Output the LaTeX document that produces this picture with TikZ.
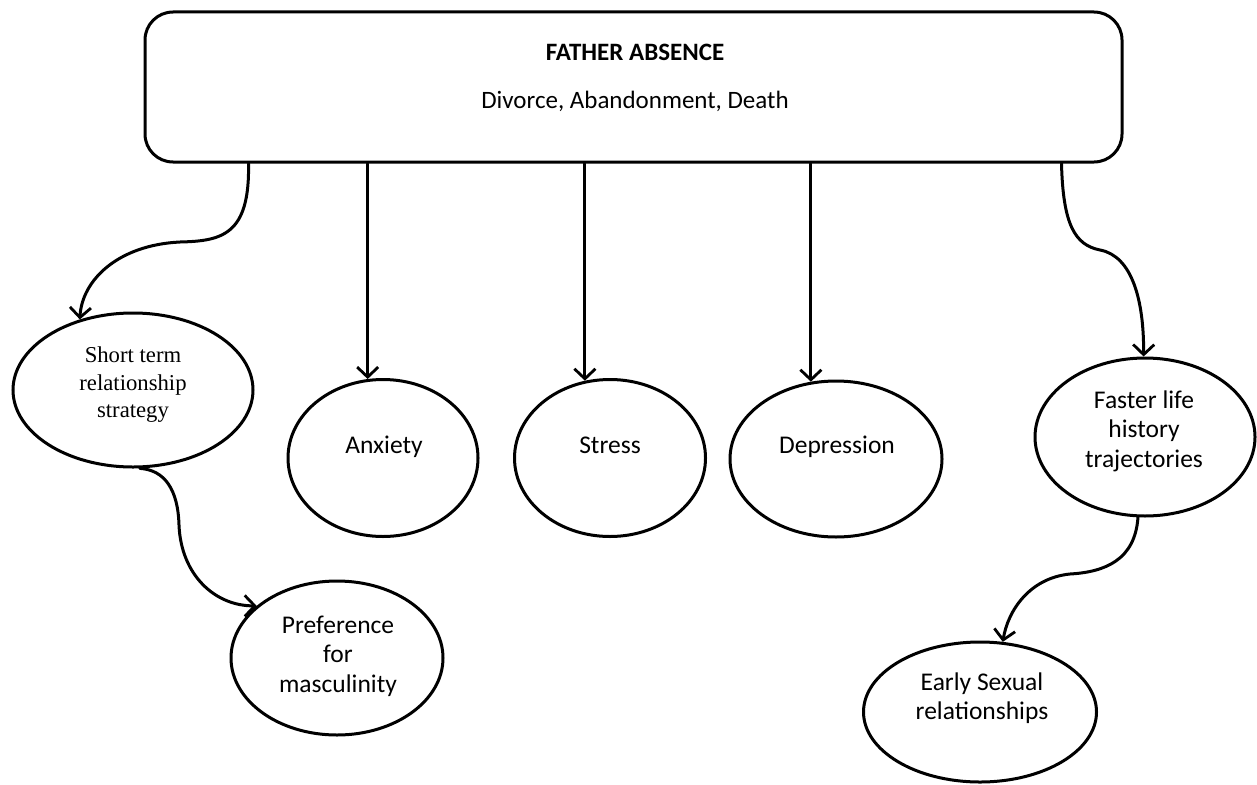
\documentclass[tikz,border=0pt]{standalone}
\usepackage{fontspec}
\setmainfont{Carlito}
\newfontfamily\timesfont{Liberation Serif}
\usetikzlibrary{shapes.geometric,arrows.meta,calc}
\tikzset{
  every picture/.style={line width=3pt},
  bubble/.style={draw, ellipse, inner sep=0pt},
  lbl/.style={inner sep=0pt, align=center, font=\fontsize{25.5}{29.5}\selectfont},
  arr/.style={-{Straight Barb[length=10pt,width=21pt,line width=2.8pt]}, line cap=round},
}
\begin{document}
\begin{tikzpicture}[x=1pt,y=-1pt]
\useasboundingbox (0,0) rectangle (1257,784);
% top box
\node[draw, rounded corners=28pt, minimum width=977pt, minimum height=150pt, inner sep=0pt] (top) at (633.5,87) {};
\node[lbl, font=\fontsize{25}{29}\selectfont\bfseries] (ttl) at (635,55) {\strut FATHER ABSENCE};
\node[lbl, font=\fontsize{25}{29}\selectfont] (sub) at (635,103) {\strut Divorce, Abandonment, Death};
% ellipses
\node[bubble, minimum width=240pt, minimum height=154pt] (st) at (133,390) {};
\node[lbl, font=\timesfont\fontsize{22.7}{27.5}\selectfont] (sttxt) at (133,385) {Short term\\relationship\\strategy};
\node[bubble, minimum width=190pt, minimum height=157pt] (anx) at (383,458) {};
\node[lbl] (anxtxt) at (384,448) {\strut Anxiety};
\node[bubble, minimum width=191pt, minimum height=157pt] (str) at (610,458) {};
\node[lbl] (strtxt) at (610,448) {\strut Stress};
\node[bubble, minimum width=212pt, minimum height=156pt] (dep) at (836,459) {};
\node[lbl] (deptxt) at (837,448) {\strut Depression};
\node[bubble, minimum width=220pt, minimum height=158pt] (fl) at (1145,437) {};
\node[lbl] (fltxt) at (1144,431) {Faster life\\history\\trajectories};
\node[bubble, minimum width=212pt, minimum height=154pt] (pref) at (337,658) {};
\node[lbl] (preftxt) at (338,656) {Preference\\for\\masculinity};
\node[bubble, minimum width=233pt, minimum height=140pt] (es) at (980,712) {};
\node[lbl] (estxt) at (982,698) {Early Sexual\\relationships};
% straight arrows
\draw[arr] (top.south -| anx.101) -- (anx.101);
\draw[arr] (top.south -| str.108) -- (str.108);
\draw[arr] (top.south -| dep.108) -- (dep.108);
% curved arrows
\draw[arr] ($(top.south west)+(105,0)$) .. controls (250,235) and (222,241) .. (180,242)
   .. controls (118,245) and (82,280) .. (st.127);
\draw[arr] (st.-85) .. controls (165,470) and (178,490) .. (179,525)
   .. controls (181,575) and (215,606) .. (pref.147);
\draw[arr] ($(top.south west)+(918,0)$) .. controls (1063,225) and (1075,245) .. (1100,250)
   .. controls (1132,256) and (1144,300) .. (fl.91);
\draw[arr] (fl.-95) .. controls (1135,560) and (1105,572) .. (1070,574)
   .. controls (1030,578) and (1008,610) .. (es.72);
\end{tikzpicture}
\end{document}
